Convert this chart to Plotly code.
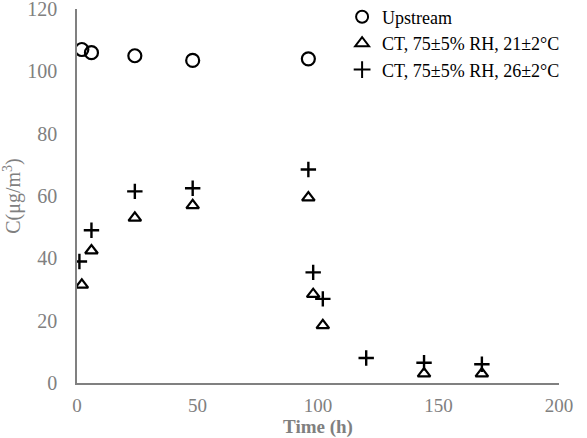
import plotly.graph_objects as go

up_x = [2, 6, 24, 48, 96]
up_y = [107, 106, 105, 103.5, 104]

t21_x = [2, 6, 24, 48, 96, 98, 102, 144, 168]
t21_y = [31.5, 42.5, 53, 57, 59.5, 28.5, 18.5, 3, 3]

t26_x = [1, 6, 24, 48, 96, 98, 102, 120, 144, 168]
t26_y = [39, 49, 61.5, 62.5, 68.5, 35.5, 27, 8, 6.5, 6]

names = ["Upstream", "CT, 75\u00b15% RH, 21\u00b12\u00b0C", "CT, 75\u00b15% RH, 26\u00b12\u00b0C"]

x_ticks = [0, 50, 100, 150, 200]
y_ticks = [0, 20, 40, 60, 80, 100, 120]

FONT = "Liberation Serif"
GRAY = "#808080"

fig = go.Figure()
fig.add_trace(go.Scatter(x=up_x, y=up_y, mode="markers", name=names[0],
                         marker=dict(symbol="circle-open", size=13, color="black", line=dict(width=2.2, color="black"))))
fig.add_trace(go.Scatter(x=t21_x, y=t21_y, mode="markers", name=names[1],
                         marker=dict(symbol="triangle-up-open", size=11, color="black", line=dict(width=2.2, color="black"))))
fig.add_trace(go.Scatter(x=t26_x, y=t26_y, mode="markers", name=names[2],
                         marker=dict(symbol="cross-thin-open", size=11, color="black", line=dict(width=2.4, color="black"))))

fig.update_layout(
    width=587, height=438,
    margin=dict(l=77, r=28, t=9, b=55, autoexpand=False),
    paper_bgcolor="white", plot_bgcolor="white",
    font=dict(family=FONT, size=18, color=GRAY),
    showlegend=True,
    legend=dict(x=0.55, y=1.028, xanchor="left", yanchor="top",
                font=dict(family=FONT, size=18, color="black"),
                bgcolor="rgba(0,0,0,0)", tracegroupgap=0, itemwidth=30,
                itemsizing="constant"),
    xaxis=dict(range=[0, 200], tickvals=x_ticks, showgrid=False, zeroline=False,
               showline=True, linecolor=GRAY, linewidth=1.5, ticks="",
               ticklabelstandoff=4, automargin=False,
               tickfont=dict(family=FONT, size=19, color=GRAY),
               title=dict(text="<b>Time (h)</b>", font=dict(family=FONT, size=19, color=GRAY))),
    yaxis=dict(range=[0, 120], tickvals=y_ticks, showgrid=False, zeroline=False,
               showline=True, linecolor=GRAY, linewidth=1.5, ticks="",
               ticklabelstandoff=14, ticklabeloverflow="allow", automargin=False,
               tickfont=dict(family=FONT, size=20, color=GRAY),
               title=dict(text="C(\u03bcg/m<sup>3</sup>)", font=dict(family=FONT, size=20, color=GRAY), standoff=6)),
)

fig.write_html("out.html")
